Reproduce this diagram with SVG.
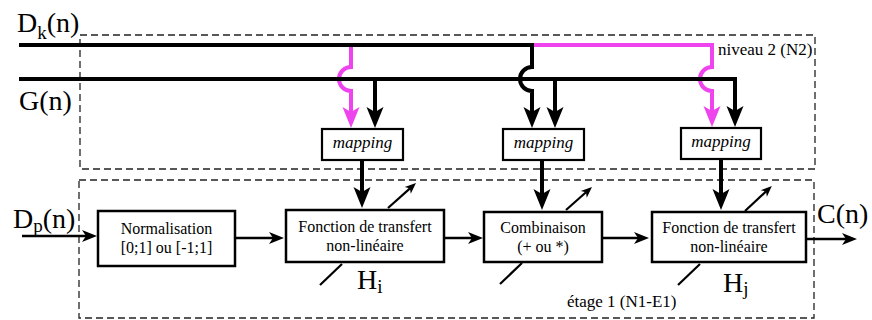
<svg xmlns="http://www.w3.org/2000/svg" width="872" height="320" viewBox="0 0 872 320">
<style>
text{font-family:"Liberation Serif","Times New Roman",serif;fill:#000}
.big{font-size:28px}
.sub{font-size:19px}
.bt{font-size:16px;text-anchor:middle}
.map{font-size:17px;font-style:italic;text-anchor:middle}
.lbl{font-size:17px}
.dash{fill:none;stroke:#222;stroke-width:1.3;stroke-dasharray:7 4}
.box{fill:#fff;stroke:#000;stroke-width:2.5}
.mbox{fill:#fff;stroke:#000;stroke-width:2.2}
.thk{fill:none;stroke:#000;stroke-width:4;stroke-linejoin:miter}
.mag{fill:none;stroke:#ee44ee;stroke-width:4;stroke-linejoin:miter}
.thn{fill:none;stroke:#000;stroke-width:2.5}
.dia{fill:none;stroke:#000;stroke-width:2.2}
</style>
<defs>
<marker id="ab" markerUnits="userSpaceOnUse" markerWidth="24" markerHeight="20" refX="5" refY="10" orient="auto" viewBox="0 0 24 20" overflow="visible">
<path d="M0,1.5 L21,10 L0,18.5 L5,10 Z" fill="#000"/>
</marker>
<marker id="am" markerUnits="userSpaceOnUse" markerWidth="24" markerHeight="20" refX="5" refY="10" orient="auto" viewBox="0 0 24 20" overflow="visible">
<path d="M0,1.5 L21,10 L0,18.5 L5,10 Z" fill="#ee44ee"/>
</marker>
<marker id="as" markerUnits="userSpaceOnUse" markerWidth="16" markerHeight="14" refX="4" refY="7" orient="auto" viewBox="0 0 16 14" overflow="visible">
<path d="M0,1 L15,7 L0,13 L4,7 Z" fill="#000"/>
</marker>
<marker id="at" markerUnits="userSpaceOnUse" markerWidth="12" markerHeight="10" refX="3" refY="5" orient="auto" viewBox="0 0 12 10" overflow="visible">
<path d="M0,0.5 L11,5 L0,9.5 L3,5 Z" fill="#000"/>
</marker>
</defs>

<g id="zone-n2">
<rect class="dash" x="80" y="35" width="735" height="134"/>
<text class="lbl" x="718" y="55">niveau 2 (N2)</text>
</g>
<g id="zone-e1">
<rect class="dash" x="79" y="180" width="735" height="138"/>
<text class="lbl" x="567" y="307">étage 1 (N1-E1)</text>
</g>

<g id="connectors">
<path class="mag" d="M351,47 V67 A12,12 0 0 0 351,91 V112" marker-end="url(#am)"/>
<path class="mag" d="M532,45 H712 V67 A12,12 0 0 0 712,91 V111" marker-end="url(#am)"/>
<path class="thk" d="M19,45 H532 V67 A12,12 0 0 0 532,91 V112" marker-end="url(#ab)"/>
<path class="thk" d="M19,79 H735 V111" marker-end="url(#ab)"/>
<path class="thk" d="M375,79 V112" marker-end="url(#ab)"/>
<path class="thk" d="M555,79 V112" marker-end="url(#ab)"/>
<path class="thk" d="M362,160 V192" marker-end="url(#ab)"/>
<path class="thk" d="M542,160 V194" marker-end="url(#ab)"/>
<path class="thk" d="M721,159 V194" marker-end="url(#ab)"/>
<path class="thn" d="M22,236 H86" marker-end="url(#as)"/>
<path class="thn" d="M235,238 H273" marker-end="url(#as)"/>
<path class="thn" d="M444,238 H472" marker-end="url(#as)"/>
<path class="thn" d="M603,238 H638" marker-end="url(#as)"/>
<path class="thn" d="M806,239 H846" marker-end="url(#as)"/>
<path class="dia" d="M320,285 L342,264"/>
<path class="dia" d="M388,208 L410,188.4" marker-end="url(#at)"/>
<path class="dia" d="M500,284 L522,263"/>
<path class="dia" d="M566,210 L586,192.3" marker-end="url(#at)"/>
<path class="dia" d="M678,285 L700,264"/>
<path class="dia" d="M745,211 L766,191.4" marker-end="url(#at)"/>
</g>

<g id="label-dk"><text class="big" x="17" y="32">D<tspan class="sub" dy="7">k</tspan><tspan dy="-7">(n)</tspan></text></g>
<g id="label-g"><text class="big" x="19" y="110">G(n)</text></g>
<g id="label-dp"><text class="big" x="13" y="228">D<tspan class="sub" dy="4">p</tspan><tspan dy="-4">(n)</tspan></text></g>
<g id="label-c"><text class="big" x="817" y="223">C(n)</text></g>

<g id="mapping1">
<rect class="mbox" x="322" y="129" width="81" height="31"/>
<text class="map" x="362.5" y="148">mapping</text>
</g>
<g id="mapping2">
<rect class="mbox" x="503" y="129" width="81" height="31"/>
<text class="map" x="543.5" y="148">mapping</text>
</g>
<g id="mapping3">
<rect class="mbox" x="681" y="128" width="80" height="31"/>
<text class="map" x="721" y="147">mapping</text>
</g>

<g id="normalisation">
<rect class="box" x="98" y="211" width="137" height="55"/>
<text class="bt" x="166.5" y="234">Normalisation</text>
<text class="bt" x="166.5" y="253">[0;1] ou [-1;1]</text>
</g>
<g id="transfert-i">
<rect class="box" x="286" y="210" width="158" height="52"/>
<text class="bt" x="365" y="232">Fonction de transfert</text>
<text class="bt" x="365" y="251">non-linéaire</text>
<text class="big" x="357" y="289">H<tspan class="sub" dy="4">i</tspan></text>
</g>
<g id="combinaison">
<rect class="box" x="484" y="212" width="118" height="50"/>
<text class="bt" x="543" y="233">Combinaison</text>
<text class="bt" x="543" y="252">(+ ou *)</text>
</g>
<g id="transfert-j">
<rect class="box" x="652" y="212" width="154" height="50"/>
<text class="bt" x="729" y="233">Fonction de transfert</text>
<text class="bt" x="729" y="252">non-linéaire</text>
<text class="big" x="723" y="292">H<tspan class="sub" dy="3">j</tspan></text>
</g>
</svg>
